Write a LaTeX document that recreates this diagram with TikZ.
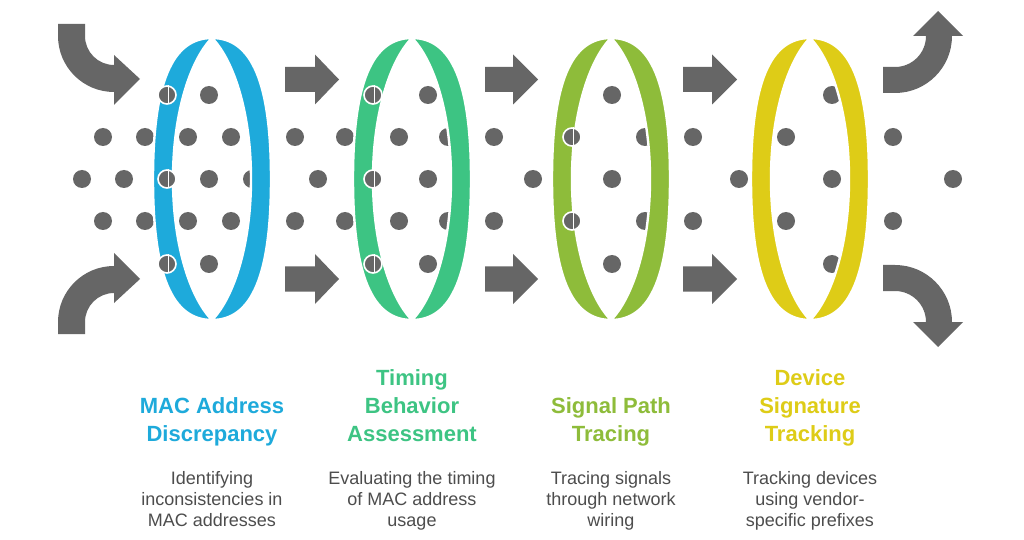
\documentclass[tikz,border=0pt]{standalone}
\usepackage{fontspec}
\setmainfont{Liberation Sans}
\usepackage{xcolor}
\usepackage{tikz}
\definecolor{dotgray}{HTML}{666666}
\definecolor{txtgray}{HTML}{4D4D4D}
\definecolor{macblue}{HTML}{1EAADB}
\definecolor{timegreen}{HTML}{3DC483}
\definecolor{pathgreen}{HTML}{8EBC3A}
\definecolor{devyellow}{HTML}{DECC17}
\tikzset{
  dot/.style={circle, fill=dotgray, minimum size=9pt, inner sep=0pt},
  frontdot/.style={dot, draw=white, line width=0.8pt},
  lensedge/.style={draw=white, line width=1.2pt, line join=round},
  blockarrow/.style={fill=dotgray},
  heading/.style={anchor=north, align=center, inner sep=0pt,
                  font=\bfseries\fontsize{11}{14}\selectfont},
  desc/.style={anchor=north, align=center, inner sep=0pt, text=txtgray,
               font=\fontsize{9}{10.5}\selectfont},
}
% one ring = two crescents round a centre x
\newcommand{\lens}[2]{%
  \filldraw[fill=#2, lensedge] (#1,38)
    .. controls (#1-40,38) and (#1-59,83) .. (#1-59,179)
    .. controls (#1-59,275) and (#1-40,320) .. (#1,320)
    .. controls (#1-20,300) and (#1-39,249) .. (#1-39,179)
    .. controls (#1-39,109) and (#1-20,58) .. (#1,38) -- cycle;
  \filldraw[fill=#2, lensedge] (#1,38)
    .. controls (#1+40,38) and (#1+59,83) .. (#1+59,179)
    .. controls (#1+59,275) and (#1+40,320) .. (#1,320)
    .. controls (#1+20,300) and (#1+39,249) .. (#1+39,179)
    .. controls (#1+39,109) and (#1+20,58) .. (#1,38) -- cycle;
}
% straight block arrow: tail x, head base x, tip x, centre y
\newcommand{\flowarrow}[4]{%
  \fill[blockarrow] (#1,#4-12.5) -- (#2,#4-12.5) -- (#2,#4-25) -- (#3,#4)
    -- (#2,#4+25) -- (#2,#4+12.5) -- (#1,#4+12.5) -- cycle;
}
\begin{document}
\begin{tikzpicture}[x=0.5pt, y=-0.5pt]
  \fill[white] (0,0) rectangle (1024,540);
  \useasboundingbox (0,0) rectangle (1024,540);

  % dots behind the rings
  \foreach \y in {95,264}
    \foreach \x in {209,428,612,832}
      \node[dot] (b\y-\x) at (\x,\y) {};
  \foreach \y in {137,221}
    \foreach \x in {103,145,188,231,295,345,399,448,494,645,693,786,893}
      \node[dot] (b\y-\x) at (\x,\y) {};
  \foreach \x in {82,124,209,252,318,428,533,612,739,832,953}
    \node[dot] (b179-\x) at (\x,179) {};

  % rings
  \lens{212}{macblue}
  \lens{412}{timegreen}
  \lens{611}{pathgreen}
  \lens{810}{devyellow}

  % dots in front of the rings
  \foreach \x/\y in {167/95,167/179,167/264,373/95,373/179,373/264,572/137,572/221} {
    \node[frontdot] (f\y-\x) at (\x,\y) {};
    \draw[white, line width=0.5pt] (f\y-\x.north) ++(1,0) -- ++(0,18);
  }

  % curved arrows in
  \fill[blockarrow] (58,24) -- (85,24) -- (85,36)
    arc[start angle=180, end angle=90, radius=29]
    -- (114,55) -- (140,79) -- (114,105) -- (114,92)
    arc[start angle=90, end angle=180, radius=56] -- cycle;
  \fill[blockarrow] (58,334) -- (85,334) -- (85,322)
    arc[start angle=180, end angle=270, radius=29]
    -- (114,303) -- (140,279) -- (114,253) -- (114,266)
    arc[start angle=270, end angle=180, radius=56] -- cycle;

  % straight arrows between rings
  \foreach \xa/\xb/\xc in {285/315/339, 485/513/538, 683/712/737} {
    \flowarrow{\xa}{\xb}{\xc}{79.5}
    \flowarrow{\xa}{\xb}{\xc}{279}
  }

  % curved arrows out
  \fill[blockarrow] (883,67) -- (895,67)
    arc[start angle=90, end angle=0, radius=31]
    -- (913,36) -- (938,11) -- (963,36) -- (952,36)
    arc[start angle=0, end angle=90, radius=57] -- (883,93) -- cycle;
  \fill[blockarrow] (883,291) -- (895,291)
    arc[start angle=270, end angle=360, radius=31]
    -- (913,322) -- (938,347) -- (963,322) -- (952,322)
    arc[start angle=360, end angle=270, radius=57] -- (883,265) -- cycle;

  % labels
  \foreach \cx/\col/\top/\head/\txt [count=\i] in
      {212/macblue/397/{MAC Address\\Discrepancy}/{Identifying\\inconsistencies in\\MAC addresses},
       412/timegreen/369/{Timing\\Behavior\\Assessment}/{Evaluating the timing\\of MAC address\\usage},
       611/pathgreen/397/{Signal Path\\Tracing}/{Tracing signals\\through network\\wiring},
       810/devyellow/369/{Device\\Signature\\Tracking}/{Tracking devices\\using vendor-\\specific prefixes}} {
    \node[heading, text=\col] (head\i) at (\cx,\top) {\head};
    \node[desc] (desc\i) at (\cx,471) {\txt};
  }
\end{tikzpicture}
\end{document}
